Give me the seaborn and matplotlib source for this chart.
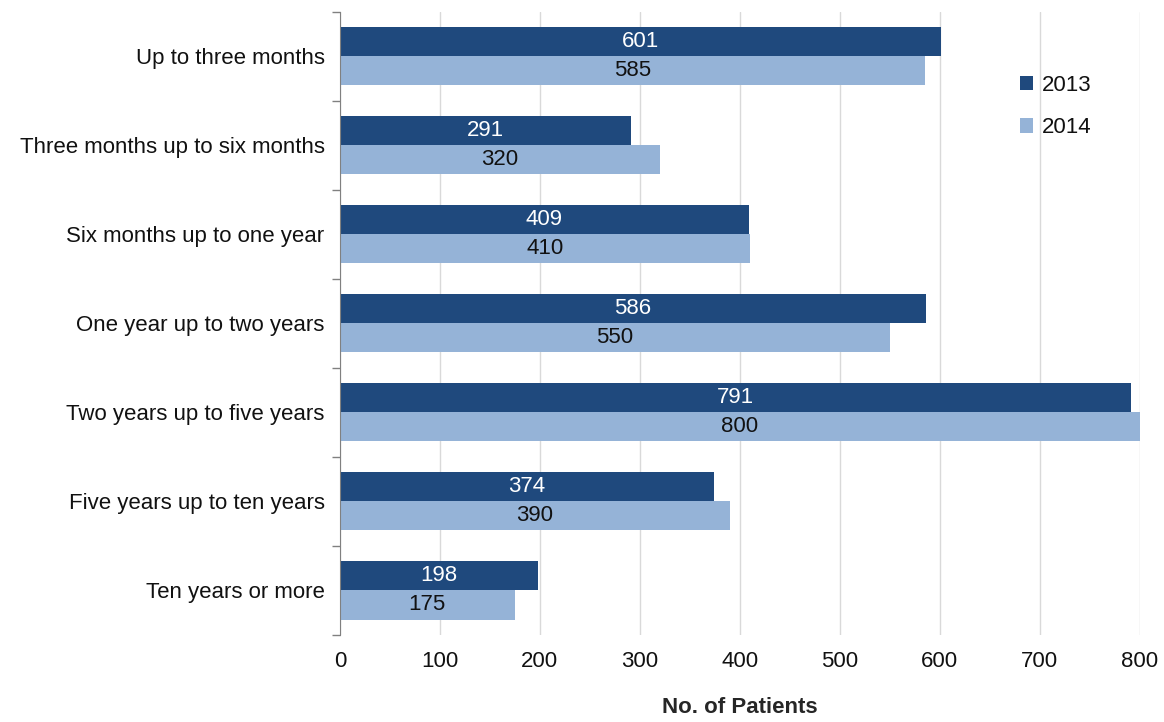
import numpy as np
import pandas as pd
import matplotlib
matplotlib.use("Agg")
import matplotlib.pyplot as plt
import seaborn as sns
from matplotlib.ticker import FixedLocator

# 데이터
categories = [
    "Up to three months",
    "Three months up to six months",
    "Six months up to one year",
    "One year up to two years",
    "Two years up to five years",
    "Five years up to ten years",
    "Ten years or more",
]
years = ["2013", "2014"]
values_2013 = [601, 291, 409, 586, 791, 374, 198]
values_2014 = [585, 320, 410, 550, 800, 390, 175]

colors = ["#1F497D", "#95B3D7"]

df = pd.DataFrame({
    "category": categories * 2,
    "year": [years[0]] * len(categories) + [years[1]] * len(categories),
    "patients": values_2013 + values_2014,
})

sns.set_style("white")
plt.rcParams["font.family"] = ["Liberation Sans", "DejaVu Sans"]
plt.rcParams["text.color"] = "#111111"
plt.rcParams["xtick.color"] = "#111111"
plt.rcParams["ytick.color"] = "#111111"

FS = 16

fig = plt.figure(figsize=(11.64, 7.22), dpi=100)
ax = fig.add_axes([0.292, 0.121, 0.687, 0.863])

sns.barplot(data=df, y="category", x="patients", hue="year", order=categories,
            hue_order=years, palette=colors, width=0.66, orient="h",
            saturation=1, ax=ax, errorbar=None, linewidth=0)

# 막대 라벨
for cont, col in zip(ax.containers, ["white", "#111111"]):
    ax.bar_label(cont, label_type="center", color=col, fontsize=FS)

ax.set_xlim(0, 800)
ax.set_ylim(len(categories) - 0.5, -0.5)
ax.set_xticks(range(0, 801, 100))
ax.xaxis.grid(True, color="#d9d9d9", linewidth=1)
ax.set_axisbelow(True)

for side in ["top", "right", "bottom"]:
    ax.spines[side].set_visible(False)
ax.spines["left"].set_color("#808080")

ax.tick_params(axis="y", which="major", length=0, labelsize=FS, pad=11)
ax.tick_params(axis="x", which="major", length=0, labelsize=FS, pad=12)
ax.yaxis.set_minor_locator(FixedLocator(np.arange(-0.5, len(categories), 1.0)))
ax.tick_params(axis="y", which="minor", left=True, length=6, width=1,
               color="#808080", direction="out")

ax.set_ylabel("")
ax.set_xlabel("No. of Patients", fontsize=FS, fontweight="bold", labelpad=18)

handles, labels = ax.get_legend_handles_labels()
ax.legend(handles, labels, loc="upper right", bbox_to_anchor=(0.965, 0.93),
          frameon=False, fontsize=FS, handlelength=0.6, handleheight=0.6,
          labelspacing=0.95, handletextpad=0.4)

plt.savefig("out.png", dpi=100)
